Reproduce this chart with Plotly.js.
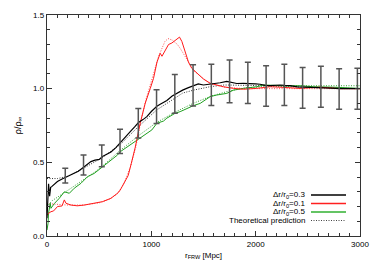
<!DOCTYPE html>
<html><head><meta charset="utf-8">
<script src="https://cdn.plot.ly/plotly-3.0.1.min.js"></script>
<style>html,body{margin:0;padding:0;background:#fff}#c{width:374px;height:267px}</style>
</head><body><div id="c"></div>
<script>
// Δr/r0 = 0.3 (black)
const blackX = [0,8,15,25,35,45,70,100,140,182,220,261,300,357,421,460,501,532,570,613,660,702,750,800,840,877,920,957,1000,1053,1085,1149,1200,1250,1300,1350,1404,1450,1499,1550,1595,1660,1723,1770,1819,1880,1947,2000,2042,2090,2138,2190,2234,2280,2330,2400,2490,2560,2648,2720,2808,2900,2968,3000];
const blackY = [0.12,0.30,0.355,0.27,0.33,0.335,0.35,0.37,0.385,0.40,0.41,0.425,0.44,0.47,0.505,0.515,0.52,0.54,0.555,0.57,0.60,0.635,0.67,0.71,0.74,0.77,0.79,0.81,0.845,0.88,0.894,0.92,0.95,0.972,0.99,1.005,1.02,1.032,1.025,1.03,1.03,1.04,1.05,1.045,1.035,1.036,1.037,1.033,1.03,1.022,1.02,1.025,1.025,1.022,1.02,1.012,1.01,1.008,1.01,1.004,1.0,1.0,1.0,1.0];
const blackThX = [0,100,200,350,525,700,880,1050,1225,1300,1404,1560,1700,1900,2100,2400,2700,3000];
const blackThY = [0.39,0.39,0.405,0.46,0.53,0.62,0.745,0.855,0.935,0.97,0.99,1.013,1.025,1.025,1.02,1.012,1.005,1.0];
// Δr/r0 = 0.1 (red)
const redX = [0,15,38,63,101,144,166,182,230,290,357,453,532,613,676,702,740,778,807,845,893,941,989,1021,1054,1085,1102,1133,1165,1197,1229,1270,1293,1324,1356,1388,1436,1500,1564,1628,1691,1787,1882,2010,2138,2234,2425,2617,2808,3000];
const redY = [0.14,0.154,0.165,0.17,0.2,0.204,0.245,0.222,0.21,0.205,0.21,0.222,0.233,0.256,0.29,0.312,0.36,0.41,0.49,0.6,0.765,0.9,1.0,1.07,1.18,1.24,1.22,1.265,1.3,1.31,1.33,1.35,1.32,1.25,1.18,1.138,1.105,1.065,1.037,1.025,1.013,1.002,0.996,1.002,1.013,1.01,1.002,1.01,1.0,1.0];
const redThX = [0,100,200,350,500,600,680,740,800,850,900,950,1000,1040,1070,1100,1130,1160,1200,1250,1280,1340,1400,1470,1560,1700,1900,2200,2600,3000];
const redThY = [0.22,0.215,0.21,0.21,0.225,0.25,0.29,0.36,0.47,0.6,0.78,0.93,1.05,1.15,1.22,1.27,1.32,1.34,1.33,1.30,1.27,1.2,1.127,1.085,1.035,1.01,1.0,1.0,1.0,1.0];
// Δr/r0 = 0.5 (green)
const greenX = [0,10,15,31,38,70,118,166,214,261,326,389,453,532,613,676,702,760,820,877,940,1005,1053,1116,1149,1228,1276,1340,1404,1468,1564,1628,1723,1787,1882,2010,2074,2200,2298,2420,2553,2744,2900,3000];
const greenY = [0.04,0.086,0.156,0.222,0.188,0.22,0.256,0.30,0.29,0.324,0.358,0.403,0.425,0.47,0.516,0.55,0.572,0.6,0.635,0.66,0.69,0.72,0.765,0.78,0.80,0.833,0.844,0.865,0.885,0.90,0.946,0.957,0.968,0.99,1.002,1.013,1.025,1.022,1.018,1.02,1.013,1.01,1.004,1.002];
const greenThX = [0,50,200,350,450,525,700,875,1050,1225,1400,1575,1750,1900,2100,2400,2700,3000];
const greenThY = [0.2,0.24,0.31,0.38,0.43,0.47,0.58,0.68,0.77,0.84,0.90,0.95,0.985,1.005,1.015,1.02,1.02,1.02];
// error bars
const barX = [175,350,525,700,875,1050,1225,1400,1575,1750,1925,2100,2275,2450,2625,2800,2975];
const barY = [0.41,0.482,0.544,0.642,0.765,0.878,0.965,1.022,1.025,1.05,1.04,1.018,1.025,1.005,1.013,0.998,0.999];
const barErr = [0.05,0.068,0.074,0.082,0.10,0.115,0.132,0.14,0.14,0.145,0.14,0.138,0.14,0.138,0.139,0.138,0.139];

const legendLabels = ['Δr/r<sub>0</sub>=0.3','Δr/r<sub>0</sub>=0.1','Δr/r<sub>0</sub>=0.5','Theoretical prediction'];
const legendColors = ['#000000','#ff2020','#30b030','#444444'];
const legendDash = ['solid','solid','solid','1px,1.5px'];

const dots = '1px,1.5px';
const traces = [
  {x: greenThX, y: greenThY, mode:'lines', line:{color:'#30a030', width:1, dash:dots}},
  {x: redThX, y: redThY, mode:'lines', line:{color:'#ff5050', width:1, dash:dots}},
  {x: blackThX, y: blackThY, mode:'lines', line:{color:'#333', width:1, dash:dots}},
  {x: greenX, y: greenY, mode:'lines', line:{color:'#1f9f1f', width:1}},
  {x: redX, y: redY, mode:'lines', line:{color:'#ff1a1a', width:1}},
  {x: blackX, y: blackY, mode:'lines', line:{color:'#000', width:1.2}},
  {x: barX, y: barY, mode:'markers', marker:{size:1, opacity:0},
   error_y:{type:'data', array: barErr, visible:true, color:'#555', thickness:1.5, width:3}}
];

const fnt = {family:'Liberation Sans, Arial, sans-serif', size:8, color:'#000'};
const pxX = p => (p - 47) / 313;
const pxY = p => (236 - p) / 221;
const rowsY = [195, 203.5, 212, 220.5];
const annotations = legendLabels.map((t,i)=>({xref:'paper', yref:'paper', x:pxX(307), y:pxY(rowsY[i]), xanchor:'right', yanchor:'middle', text:t, showarrow:false, font:fnt}));
const shapes = legendLabels.map((t,i)=>({type:'line', xref:'paper', yref:'paper', x0:pxX(311), x1:pxX(346), y0:pxY(rowsY[i]), y1:pxY(rowsY[i]), line:{color:legendColors[i], width: i<3?1.5:1, dash:legendDash[i]}}));

const layout = {
  width:374, height:267, showlegend:false,
  margin:{l:47, r:14, t:15, b:31},
  paper_bgcolor:'#fff', plot_bgcolor:'#fff',
  font: fnt,
  xaxis:{range:[0,3000], dtick:1000, tick0:0, ticks:'inside', ticklen:5, tickwidth:1, tickcolor:'#333',
    minor:{dtick:100, ticks:'inside', ticklen:3, tickcolor:'#333', showgrid:false},
    showline:true, linecolor:'#333', linewidth:1.2, mirror:'ticks', showgrid:false, zeroline:false,
    tickfont:fnt, title:{text:'r<sub>FRW</sub> [Mpc]', font:{family:fnt.family, size:8}, standoff:4}},
  yaxis:{range:[0,1.5], dtick:0.5, tick0:0, tickformat:'.1f', ticks:'inside', ticklen:5, tickwidth:1, tickcolor:'#333',
    minor:{dtick:0.1, ticks:'inside', ticklen:3, tickcolor:'#333', showgrid:false},
    showline:true, linecolor:'#333', linewidth:1.2, mirror:'ticks', showgrid:false, zeroline:false,
    tickfont:fnt, title:{text:'ρ/ρ<sub>∞</sub>', font:{family:fnt.family, size:9}, standoff:10}},
  annotations, shapes
};
Plotly.newPlot('c', traces, layout, {displayModeBar:false, staticPlot:true});
</script></body></html>
